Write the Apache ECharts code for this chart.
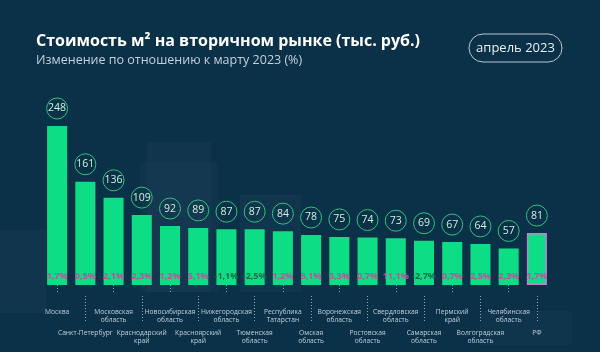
<!DOCTYPE html>
<html>
<head>
<meta charset="utf-8">
<script src="https://cdn.jsdelivr.net/npm/echarts@6/dist/echarts.min.js"></script>
<style>
    html, body { margin: 0; padding: 0; background: #0b3149; }
    #chart { width: 600px; height: 352px; }
</style>
</head>
<body>
<div id="chart"></div>
<script>
var regions = ['Москва', 'Санкт-Петербург', 'Московская\nобласть', 'Краснодарский\nкрай',
    'Новосибирская\nобласть', 'Красноярский\nкрай', 'Нижегородская\nобласть', 'Тюменская\nобласть',
    'Республика\nТатарстан', 'Омская\nобласть', 'Воронежская\nобласть', 'Ростовская\nобласть',
    'Свердловская\nобласть', 'Самарская\nобласть', 'Пермский\nкрай', 'Волгоградская\nобласть',
    'Челябинская\nобласть', 'РФ'];
var prices = [248, 161, 136, 109, 92, 89, 87, 87, 84, 78, 75, 74, 73, 69, 67, 64, 57, 81];
var changes = [1.7, 0.5, 2.1, 2.3, 1.2, 5.1, -1.1, -2.5, 1.2, 5.1, 3.3, 0.7, 11.1, -2.7, 0.7, 2.5, 2.3, 1.7];

var barColor = '#0ddd84';
var pink = '#c94aa0';
var darkGreen = '#17694d';

function fmtPct(v) {
    return String(v).replace('.', ',') + '%';
}

// столбцы, РФ выделяем рамкой
var barData = prices.map(function (v, i) {
    var item = {value: v};
    if (regions[i] === 'РФ') {
        item.itemStyle = {borderColor: '#c77dd6', borderWidth: 1.5};
    }
    return item;
});

// проценты внизу столбца
var pctData = prices.map(function (v, i) {
    return {
        value: v,
        label: {color: changes[i] < 0 ? darkGreen : pink}
    };
});

var labelStyle = {
    color: '#c3ced8',
    fontSize: 6.7,
    lineHeight: 8,
    fontFamily: 'Open Sans'
};

var option = {
    backgroundColor: '#0b3149',
    animation: false,
    title: {
        text: 'Стоимость м² на вторичном рынке (тыс. руб.)',
        subtext: 'Изменение по отношению к марту 2023 (%)',
        left: 31,
        top: 27,
        itemGap: 3,
        textStyle: {
            color: '#ffffff',
            fontSize: 16,
            fontWeight: 'bold',
            lineHeight: 18,
            fontFamily: 'Open Sans'
        },
        subtextStyle: {
            color: '#c5d0da',
            fontSize: 12.5,
            lineHeight: 15,
            fontFamily: 'Open Sans'
        }
    },
    graphic: [
        // фон - "здания"
        {type: 'rect', silent: true, z: -1, shape: {x: 147, y: 142, width: 64, height: 150}, style: {fill: 'rgba(255,255,255,0.025)'}},
        {type: 'rect', silent: true, z: -1, shape: {x: 140, y: 162, width: 78, height: 130}, style: {fill: 'rgba(255,255,255,0.02)'}},
        {type: 'rect', silent: true, z: -1, shape: {x: 240, y: 195, width: 61, height: 97}, style: {fill: 'rgba(255,255,255,0.025)'}},
        {type: 'rect', silent: true, z: -1, shape: {x: 0, y: 230, width: 46, height: 83}, style: {fill: 'rgba(255,255,255,0.025)'}},
        {type: 'rect', silent: true, z: -1, shape: {x: 480, y: 311, width: 92, height: 34}, style: {fill: 'rgba(255,255,255,0.02)'}},
        {
            type: 'rect',
            shape: {x: 469, y: 34, width: 93, height: 28, r: 14},
            style: {fill: 'transparent', stroke: '#b9c6d0', lineWidth: 1}
        },
        {
            type: 'text',
            x: 515.5,
            y: 48,
            style: {
                text: 'апрель 2023',
                fill: '#e8eef2',
                fontSize: 13,
                fontFamily: 'Open Sans',
                align: 'center',
                verticalAlign: 'middle'
            }
        }
    ],
    grid: {
        left: 43,
        right: 49,
        top: 126,
        bottom: 67,
        outerBoundsMode: 'none'
    },
    xAxis: [
        {
            type: 'category',
            position: 'bottom',
            offset: 11,
            data: regions,
            axisLine: {show: false},
            axisTick: {
                show: true,
                alignWithLabel: true,
                length: 7,
                interval: function (index) { return index % 2 === 0; },
                lineStyle: {color: '#8fa3b3', type: [1, 2], width: 1}
            },
            axisLabel: Object.assign({
                margin: 12,
                interval: function (index) { return index % 2 === 0; }
            }, labelStyle)
        },
        {
            type: 'category',
            position: 'bottom',
            offset: 11,
            data: regions,
            axisLine: {show: false},
            axisTick: {
                show: true,
                alignWithLabel: true,
                length: 27,
                interval: function (index) { return index % 2 === 1; },
                lineStyle: {color: '#8fa3b3', type: [1, 2], width: 1}
            },
            axisLabel: Object.assign({
                margin: 33,
                interval: function (index) { return index % 2 === 1; }
            }, labelStyle)
        }
    ],
    yAxis: {
        type: 'value',
        min: 0,
        max: 248,
        show: false,
        splitLine: {show: false}
    },
    series: [
        {
            name: 'Цена',
            type: 'bar',
            xAxisIndex: 0,
            barCategoryGap: '29%',
            itemStyle: {color: barColor},
            label: {
                show: true,
                position: 'top',
                distance: 7,
                width: 21,
                height: 21,
                lineHeight: 21,
                align: 'center',
                borderRadius: 11,
                borderColor: '#2bc47d',
                borderWidth: 1,
                color: '#c9f3dc',
                fontSize: 10.5,
                fontFamily: 'Open Sans'
            },
            data: barData
        },
        {
            name: 'Изменение',
            type: 'bar',
            xAxisIndex: 0,
            barGap: '-100%',
            barCategoryGap: '29%',
            itemStyle: {color: 'transparent'},
            silent: true,
            z: 3,
            label: {
                show: true,
                position: 'insideBottom',
                distance: 4,
                fontSize: 9,
                fontWeight: 'bold',
                fontFamily: 'Open Sans',
                textBorderWidth: 0,
                textBorderColor: 'transparent',
                formatter: function (p) { return fmtPct(changes[p.dataIndex]); }
            },
            data: pctData
        }
    ]
};

var myChart = echarts.init(document.getElementById('chart'));
myChart.setOption(option);
</script>
</body>
</html>
